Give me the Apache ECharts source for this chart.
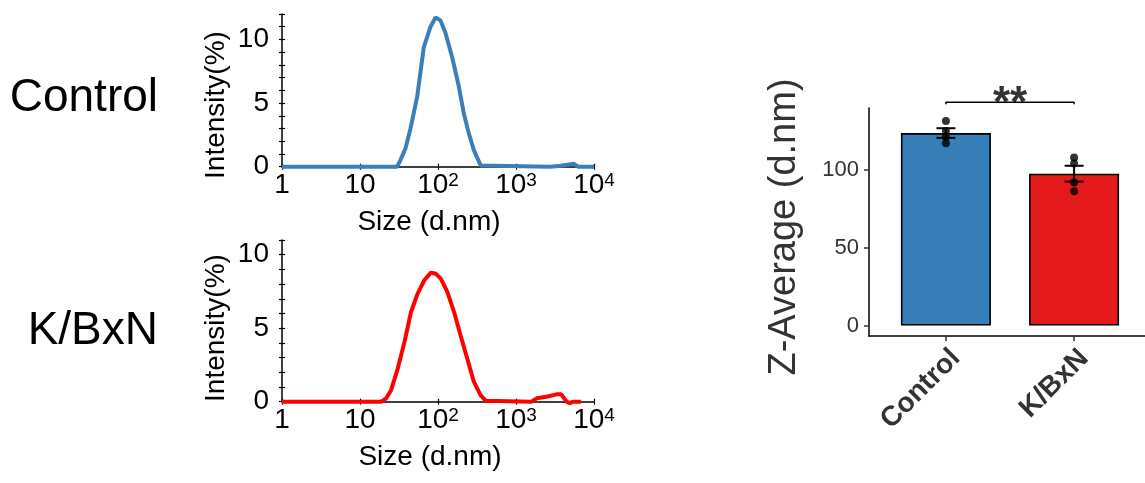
<!DOCTYPE html>
<html><head><meta charset="utf-8">
<script src="https://cdn.jsdelivr.net/npm/echarts@6/dist/echarts.min.js"></script>
<style>html,body{margin:0;padding:0;background:#fff}#c{width:1145px;height:483px}</style>
</head><body><div id="c"></div>
<script>
// ---- data ----
const controlSize = [1, 30, 33, 38.3, 44.4, 54.1, 65.8, 80.2, 92.9, 107.6, 124.7, 152, 185, 214, 249, 288, 352, 370, 2780, 3730, 4550, 5530, 6240, 10000];
const controlIntensity = [0, 0, 0.52, 1.44, 3.0, 5.5, 9.4, 11.0, 11.73, 11.5, 10.5, 8.6, 6.3, 4.2, 2.6, 1.3, 0.1, 0, 0, 0.08, 0.16, 0.23, 0, 0];
const kbxnSize = [1, 18.7, 21.7, 25.1, 30.5, 37.2, 45.1, 54.8, 66.7, 81.1, 93.8, 108.6, 131.8, 160.7, 195, 237, 288, 351, 407, 430, 1585, 1845, 2455, 3311, 3800, 4470, 4900, 5400, 6800];
const kbxnIntensity = [0, 0, 0.23, 0.8, 2.26, 4.07, 6.1, 7.35, 8.26, 8.78, 8.7, 8.37, 7.47, 6.1, 4.5, 2.94, 1.36, 0.45, 0.07, 0, 0, 0.23, 0.34, 0.5, 0.5, 0, -0.1, 0, 0];
const rowLabels = ['Control', 'K/BxN'];
const groups = ['Control', 'K/BxN'];
const zMeans = [123.7, 97.6];
const zSE = [3.1, 5.1];
const controlPoints = [131.4, 125.0, 121.2, 117.2];
const kbxnPoints = [108.0, 104.1, 91.9, 86.3];
const zTicks = [0, 50, 100];
const logTickBase = ['1', '10', '10', '10', '10'];
const logTickExp = ['', '', '2', '3', '4'];
const signifLabel = '**';
const bracketY = 143.5;

const FONT = 'Liberation Sans, Arial, Helvetica, sans-serif';
const chart = echarts.init(document.getElementById('c'));

function logLabel(v) {
  const e = Math.round(Math.log10(v));
  if (e < 0 || e >= logTickBase.length) return '';
  return logTickExp[e] ? '{m|' + logTickBase[e] + '}{s|' + logTickExp[e] + '}' : '{m|' + logTickBase[e] + '}';
}
function logX(gridIndex, inside) {
  return {
    type: 'log', logBase: 10, min: 1, max: 10000, gridIndex: gridIndex, position: 'bottom',
    axisLine: { show: !inside, onZero: false, lineStyle: { color: '#000', width: 1.5 } },
    axisTick: { show: true, inside: inside, length: 3, lineStyle: { color: '#000', width: 1.2 } },
    minorTick: { show: false },
    axisLabel: inside ? { show: false } : {
      show: true, margin: 5, formatter: logLabel, color: '#000',
      rich: { m: { fontSize: 28, fontFamily: FONT, color: '#000', lineHeight: 28 },
              s: { fontSize: 19, fontFamily: FONT, color: '#000', lineHeight: 16, verticalAlign: 'top' } }
    },
    splitLine: { show: false }
  };
}
function intY(gridIndex, max, inside) {
  return {
    type: 'value', min: 0, max: max, interval: 1, gridIndex: gridIndex, position: 'left',
    axisLine: { show: !inside, onZero: false, lineStyle: { color: '#000', width: 1.5 } },
    axisTick: { show: true, inside: inside, length: 3, lineStyle: { color: '#000', width: 1.2 } },
    axisLabel: inside ? { show: false } : {
      show: true, margin: 13, fontSize: 28, fontFamily: FONT, color: '#000',
      formatter: function (v) { return (Math.round(v) % 5 === 0) ? String(Math.round(v)) : ''; }
    },
    splitLine: { show: false }
  };
}

const pairs = (xs, ys) => xs.map((x, i) => [x, ys[i]]);
const barColors = ['#377EB8', '#E41A1C'];

chart.setOption({
  backgroundColor: '#fff',
  animation: false,
  grid: [
    { left: 282, right: 551, top: 14, bottom: 316.3, outerBoundsMode: 'none' },
    { left: 282, right: 551, top: 240, bottom: 81.3, outerBoundsMode: 'none' },
    { left: 869, right: -6, top: 108, bottom: 147, outerBoundsMode: 'none' }
  ],
  xAxis: [
    logX(0, false), logX(0, true), logX(1, false), logX(1, true),
    {
      type: 'value', gridIndex: 2, min: 0.4, max: 2.6, position: 'bottom',
      axisLine: { onZero: false, lineStyle: { color: '#000', width: 1.5 } },
      axisTick: { show: true, customValues: [1, 2], length: 5, lineStyle: { color: '#333', width: 1.5 } },
      axisLabel: { show: true, customValues: [1, 2], rotate: 45, margin: 8, fontSize: 28, fontWeight: 'bold',
        verticalAlign: 'top', align: 'right',
        fontFamily: FONT, color: '#333', formatter: function (v) { return groups[Math.round(v) - 1] || ''; } },
      splitLine: { show: false }
    }
  ],
  yAxis: [
    intY(0, 12, false), intY(0, 12, true), intY(1, 11, false), intY(1, 11, true),
    {
      type: 'value', gridIndex: 2, min: -6.7, max: 139.8, position: 'left',
      axisLine: { show: true, onZero: false, lineStyle: { color: '#000', width: 1.5 } },
      axisTick: { show: true, customValues: zTicks, length: 5, lineStyle: { color: '#333', width: 1.5 } },
      axisLabel: { show: true, customValues: zTicks, margin: 10, fontSize: 22, fontFamily: FONT, color: '#333' },
      splitLine: { show: false }
    }
  ],
  series: [
    { type: 'line', xAxisIndex: 0, yAxisIndex: 0, data: pairs(controlSize, controlIntensity),
      showSymbol: false, lineStyle: { color: '#3A7EBA', width: 4 }, itemStyle: { color: '#3A7EBA' }, clip: false, z: 5 },
    { type: 'line', xAxisIndex: 2, yAxisIndex: 2, data: pairs(kbxnSize, kbxnIntensity),
      showSymbol: false, lineStyle: { color: '#FF0000', width: 4 }, itemStyle: { color: '#FF0000' }, clip: false, z: 5 },
    { type: 'bar', xAxisIndex: 4, yAxisIndex: 4, barWidth: 90,
      data: zMeans.map((m, i) => ({ value: [i + 1, m], itemStyle: { color: barColors[i] } })),
      itemStyle: { borderColor: '#000', borderWidth: 1.6 } },
    { type: 'custom', xAxisIndex: 4, yAxisIndex: 4, z: 6,
      data: zMeans.map((m, i) => [i + 1, m - zSE[i], m + zSE[i]]),
      renderItem: function (params, api) {
        const lo = api.coord([api.value(0), api.value(1)]);
        const hi = api.coord([api.value(0), api.value(2)]);
        const hw = 9.5;
        const st = { stroke: '#000', lineWidth: 2 };
        return { type: 'group', children: [
          { type: 'line', shape: { x1: lo[0], y1: lo[1], x2: hi[0], y2: hi[1] }, style: st },
          { type: 'line', shape: { x1: lo[0] - hw, y1: lo[1], x2: lo[0] + hw, y2: lo[1] }, style: st },
          { type: 'line', shape: { x1: hi[0] - hw, y1: hi[1], x2: hi[0] + hw, y2: hi[1] }, style: st }
        ] };
      } },
    { type: 'scatter', xAxisIndex: 4, yAxisIndex: 4, z: 7, symbolSize: 8, itemStyle: { color: '#000' },
      data: controlPoints.map(v => [1, v]).concat(kbxnPoints.map(v => [2, v])) },
    { type: 'line', xAxisIndex: 4, yAxisIndex: 4, clip: false, showSymbol: false, z: 7,
      lineStyle: { color: '#000', width: 1.5 },
      data: [[1, bracketY - 1.3], [1, bracketY], [2, bracketY], [2, bracketY - 1.3]] },
    { type: 'scatter', xAxisIndex: 4, yAxisIndex: 4, clip: false, symbolSize: 1, z: 7,
      itemStyle: { color: 'rgba(0,0,0,0)' },
      label: { show: true, position: 'inside', offset: [0, 3], formatter: signifLabel, fontSize: 44, fontWeight: 'bold', fontFamily: FONT, color: '#000' },
      data: [[1.5, bracketY]] }
  ],
  graphic: { elements: [
    { type: 'text', x: 158, y: 98, style: { text: rowLabels[0], font: '46px ' + FONT, fill: '#000', textAlign: 'right', textVerticalAlign: 'middle' } },
    { type: 'text', x: 158, y: 331, style: { text: rowLabels[1], font: '46px ' + FONT, fill: '#000', textAlign: 'right', textVerticalAlign: 'middle' } },
    { type: 'text', x: 216, y: 105, rotation: Math.PI / 2, style: { text: 'Intensity(%)', font: '28px ' + FONT, fill: '#000', textAlign: 'center', textVerticalAlign: 'middle' } },
    { type: 'text', x: 216, y: 328, rotation: Math.PI / 2, style: { text: 'Intensity(%)', font: '28px ' + FONT, fill: '#000', textAlign: 'center', textVerticalAlign: 'middle' } },
    { type: 'text', x: 429, y: 222, style: { text: 'Size (d.nm)', font: '28px ' + FONT, fill: '#000', textAlign: 'center', textVerticalAlign: 'middle' } },
    { type: 'text', x: 430, y: 457, style: { text: 'Size (d.nm)', font: '28px ' + FONT, fill: '#000', textAlign: 'center', textVerticalAlign: 'middle' } },
    { type: 'text', x: 785, y: 227, rotation: Math.PI / 2, style: { text: 'Z-Average (d.nm)', font: '38px ' + FONT, fill: '#333', textAlign: 'center', textVerticalAlign: 'middle' } }
  ] }
});
</script>
</body></html>
